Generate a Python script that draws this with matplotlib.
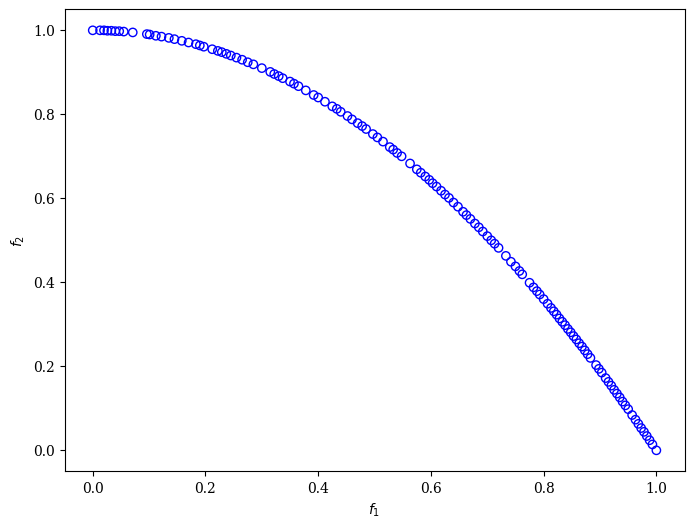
import matplotlib
matplotlib.use('Agg')
import matplotlib.pyplot as plt

plt.rcParams['font.family'] = 'serif'

# Frente de Pareto obtida (f1, f2)
f1 = [0.000, 0.013, 0.020, 0.026, 0.033, 0.040, 0.047, 0.055, 0.071,
      0.096, 0.101, 0.112, 0.122, 0.135, 0.145, 0.158, 0.170, 0.183, 0.190,
      0.197, 0.212, 0.222, 0.229, 0.237, 0.245, 0.255, 0.265, 0.275, 0.285,
      0.300, 0.315, 0.322, 0.330, 0.337, 0.350, 0.357, 0.365, 0.378, 0.392,
      0.400, 0.412, 0.425, 0.433, 0.440, 0.452, 0.460, 0.470, 0.478, 0.485,
      0.497, 0.505, 0.515, 0.527, 0.533, 0.540, 0.548, 0.563, 0.575, 0.582,
      0.590, 0.597, 0.603, 0.610, 0.618, 0.625, 0.632, 0.640, 0.648, 0.657,
      0.663, 0.670, 0.678, 0.685, 0.692, 0.700, 0.707, 0.713, 0.720, 0.733,
      0.742, 0.750, 0.757, 0.762, 0.775, 0.782, 0.788, 0.793, 0.800, 0.807,
      0.813, 0.818, 0.823, 0.828, 0.833, 0.838, 0.843, 0.848, 0.853, 0.858,
      0.863, 0.868, 0.873, 0.878, 0.883, 0.893, 0.898, 0.903, 0.910, 0.915,
      0.920, 0.925, 0.930, 0.935, 0.940, 0.945, 0.950, 0.957, 0.963, 0.968,
      0.973, 0.978, 0.983, 0.988, 0.993, 1.000]
f2 = [1.000, 1.000, 1.000, 0.999, 0.999, 0.998, 0.998, 0.997, 0.995,
      0.991, 0.990, 0.987, 0.985, 0.982, 0.979, 0.975, 0.971, 0.967, 0.964,
      0.961, 0.955, 0.951, 0.948, 0.944, 0.940, 0.935, 0.930, 0.924, 0.919,
      0.910, 0.901, 0.896, 0.891, 0.886, 0.878, 0.873, 0.867, 0.857, 0.846,
      0.840, 0.830, 0.819, 0.813, 0.806, 0.796, 0.788, 0.779, 0.772, 0.765,
      0.753, 0.745, 0.735, 0.722, 0.716, 0.708, 0.700, 0.683, 0.669, 0.661,
      0.652, 0.644, 0.636, 0.628, 0.618, 0.609, 0.601, 0.590, 0.580, 0.568,
      0.560, 0.551, 0.540, 0.531, 0.521, 0.510, 0.500, 0.492, 0.482, 0.463,
      0.449, 0.438, 0.427, 0.419, 0.399, 0.388, 0.379, 0.371, 0.360, 0.349,
      0.339, 0.331, 0.323, 0.314, 0.306, 0.298, 0.289, 0.281, 0.272, 0.264,
      0.255, 0.247, 0.238, 0.229, 0.220, 0.203, 0.194, 0.185, 0.172, 0.163,
      0.154, 0.144, 0.135, 0.126, 0.116, 0.107, 0.098, 0.084, 0.073, 0.063,
      0.053, 0.044, 0.034, 0.024, 0.014, 0.000]

fig = plt.figure(figsize=(8, 6))
plt.scatter(f1, f2, facecolors='none', edgecolors='b')
plt.xlabel('$f_1$')
plt.ylabel('$f_2$')
plt.savefig('out.png', dpi=100, bbox_inches='tight')
